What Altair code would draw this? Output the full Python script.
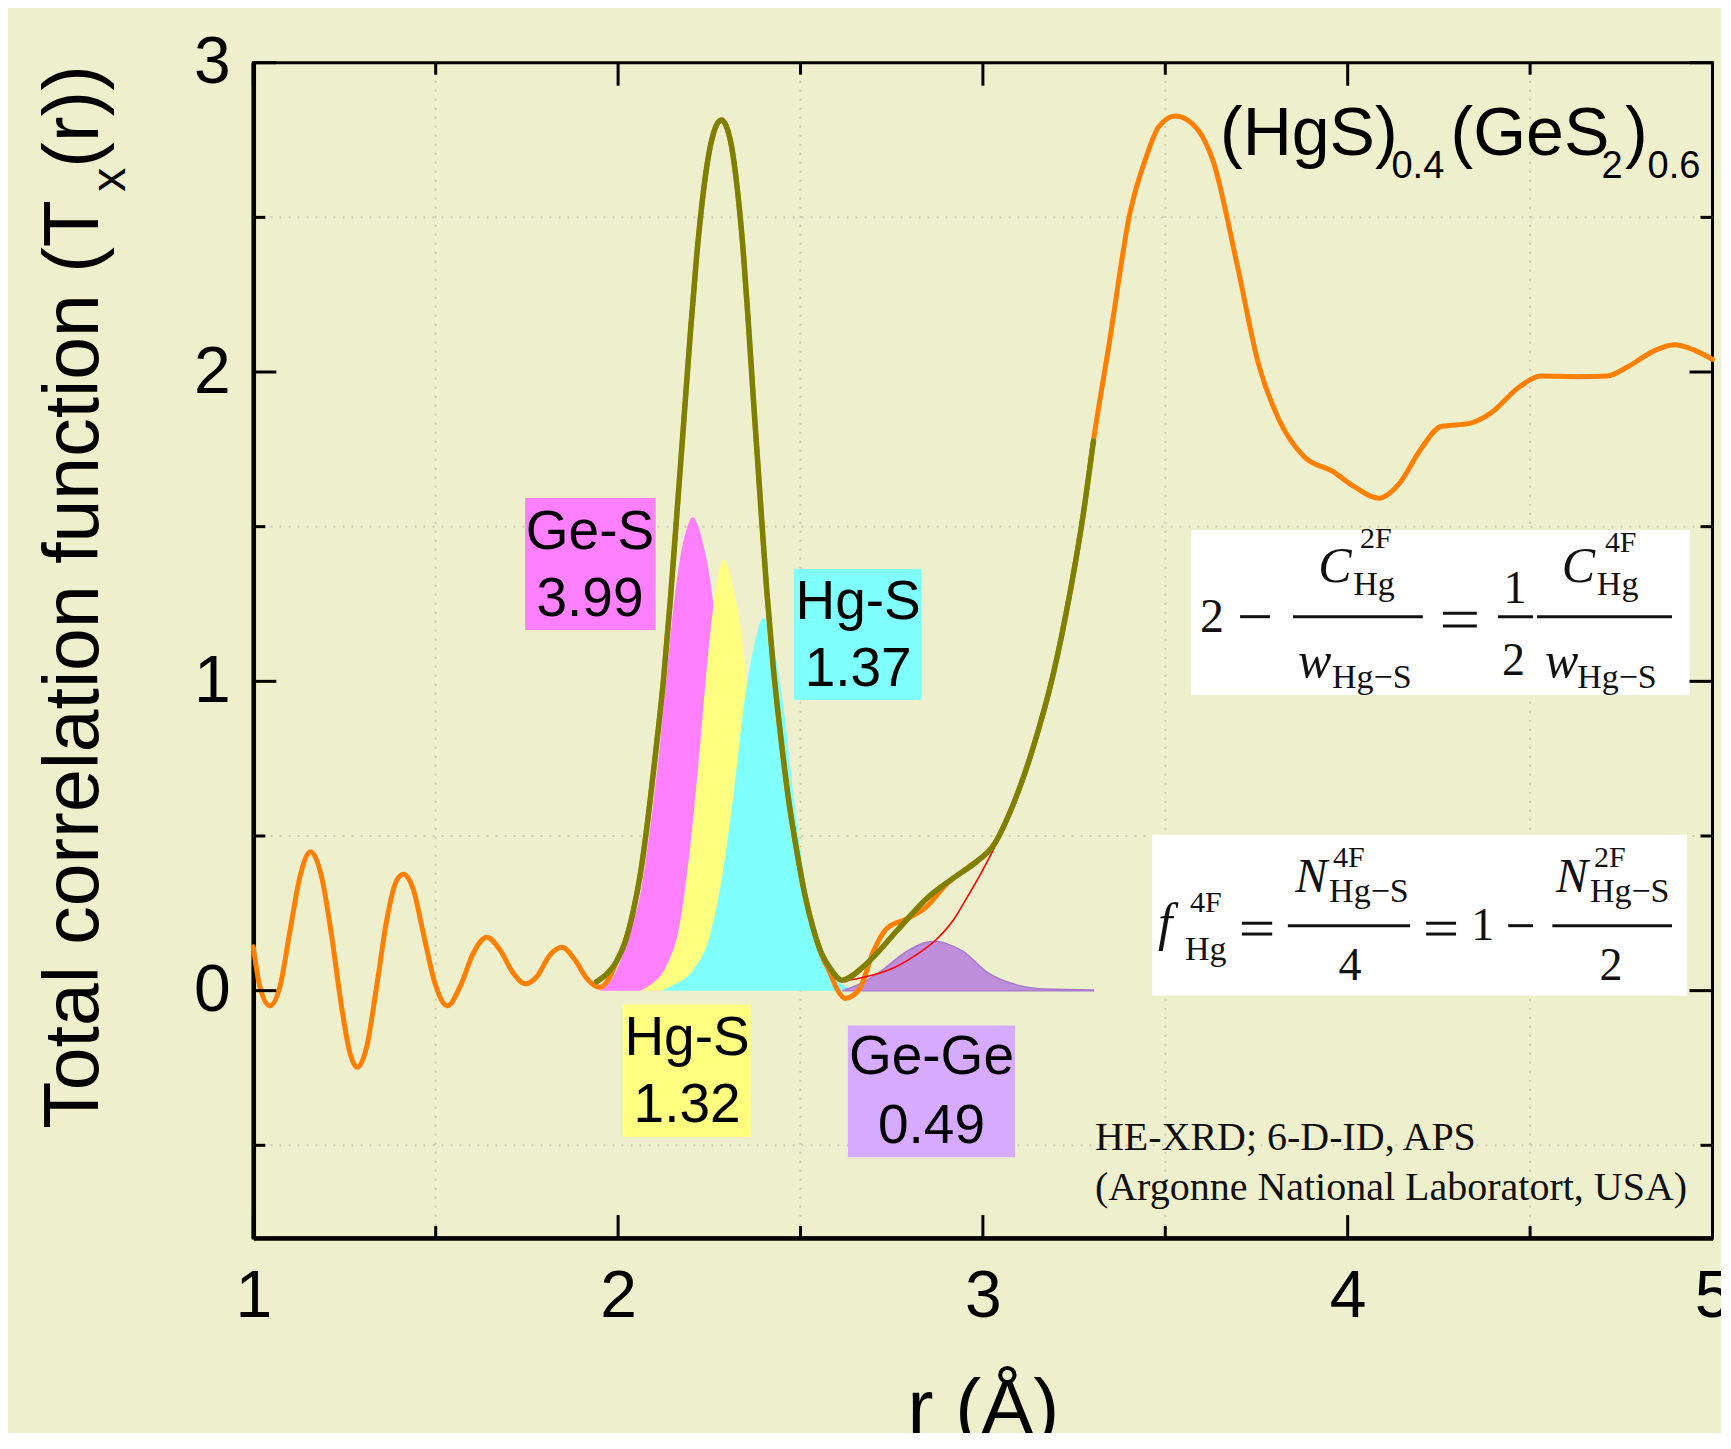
import altair as alt
import pandas as pd

# ---------------- data ----------------
# total correlation function (orange)
total_r = [1.000, 1.018, 1.046, 1.073, 1.101, 1.128, 1.157, 1.187, 1.215, 1.242, 1.265, 1.285,
           1.311, 1.338, 1.366, 1.388, 1.411, 1.439, 1.466, 1.498, 1.532, 1.567, 1.603, 1.640,
           1.676, 1.713, 1.746, 1.777, 1.813, 1.846, 1.882, 1.914, 1.949, 1.973, 1.996, 2.020,
           2.042, 2.060, 2.078, 2.100, 2.124, 2.143, 2.161, 2.180, 2.197, 2.215, 2.234, 2.248,
           2.261, 2.273, 2.284, 2.298, 2.311, 2.327, 2.343, 2.357, 2.371, 2.389, 2.407, 2.425,
           2.444, 2.467, 2.490, 2.512, 2.535, 2.558, 2.580, 2.600, 2.622, 2.645,
           2.663, 2.700, 2.736, 2.791, 2.846, 2.901, 2.965, 3.029, 3.083, 3.138, 3.193, 3.239,
           3.275, 3.303, 3.346, 3.403, 3.448, 3.482, 3.528, 3.573, 3.607, 3.630, 3.698,
           3.755, 3.812, 3.880, 3.960, 4.017, 4.085, 4.142, 4.199, 4.256, 4.335, 4.392, 4.472,
           4.529, 4.631, 4.711, 4.768, 4.836, 4.895, 4.950, 5.000]
total_t = [0.142, 0.013, -0.049, 0.013, 0.196, 0.369, 0.449, 0.369, 0.175, -0.052, -0.202, -0.248,
           -0.181, 0.013, 0.229, 0.342, 0.376, 0.326, 0.186, 0.024, -0.049, 0.013, 0.121, 0.173,
           0.132, 0.056, 0.022, 0.045, 0.115, 0.140, 0.099, 0.040, 0.011, 0.035, 0.095, 0.160,
           0.260, 0.370, 0.520, 0.740, 1.000, 1.260, 1.540, 1.840, 2.110, 2.370, 2.585, 2.700,
           2.770, 2.805, 2.815, 2.790, 2.730, 2.590, 2.390, 2.160, 1.910, 1.600, 1.300, 1.050,
           0.840, 0.620, 0.450, 0.310, 0.200, 0.115, 0.060, 0.005, -0.025, -0.015,
           0.008, 0.127, 0.200, 0.232, 0.272, 0.345, 0.404, 0.470, 0.602, 0.787, 1.024, 1.288,
           1.539, 1.777, 2.090, 2.513, 2.696, 2.793, 2.828, 2.804, 2.750, 2.686, 2.341,
           2.028, 1.845, 1.727, 1.678, 1.630, 1.592, 1.640, 1.748, 1.824, 1.834, 1.867, 1.953,
           1.987, 1.985, 1.987, 2.017, 2.066, 2.088, 2.071, 2.041]

# fitted total (olive)
fit_r = [1.941, 1.970, 1.996, 2.020, 2.042, 2.060, 2.078, 2.100, 2.124, 2.143, 2.161, 2.180,
         2.197, 2.215, 2.234, 2.248, 2.261, 2.273, 2.284, 2.298, 2.311, 2.327, 2.343, 2.357,
         2.371, 2.389, 2.407, 2.425, 2.444, 2.467, 2.490, 2.512, 2.535, 2.558, 2.581, 2.613,
         2.681, 2.764, 2.846, 2.919, 2.983, 3.029, 3.083, 3.138, 3.193, 3.239, 3.275, 3.303]
fit_t = [0.029, 0.055, 0.095, 0.160, 0.260, 0.370, 0.520, 0.740, 1.000, 1.260, 1.540, 1.840,
         2.110, 2.370, 2.585, 2.700, 2.770, 2.805, 2.815, 2.790, 2.730, 2.590, 2.390, 2.160,
         1.910, 1.600, 1.300, 1.050, 0.840, 0.620, 0.450, 0.310, 0.200, 0.120, 0.073, 0.034,
         0.087, 0.193, 0.298, 0.364, 0.417, 0.470, 0.602, 0.787, 1.024, 1.288, 1.539, 1.777]

# higher-r tail (red)
tail_r = [2.613, 2.680, 2.745, 2.810, 2.873, 2.920, 2.955, 2.995, 3.029, 3.060]
tail_t = [0.030, 0.045, 0.068, 0.110, 0.166, 0.230, 0.298, 0.380, 0.457, 0.535]

# partial peaks
ges_r = [1.950, 1.987, 2.014, 2.033, 2.060, 2.078, 2.096, 2.115, 2.133, 2.150, 2.170, 2.190,
         2.204, 2.220, 2.234, 2.257, 2.280, 2.310, 2.350, 2.400, 2.460, 2.500]
ges_t = [0.000, 0.044, 0.123, 0.200, 0.305, 0.440, 0.600, 0.800, 1.020, 1.220, 1.399, 1.500,
         1.531, 1.500, 1.441, 1.287, 1.000, 0.600, 0.300, 0.100, 0.020, 0.000]
hgs_a_r = [2.060, 2.088, 2.133, 2.170, 2.197, 2.224, 2.247, 2.270, 2.291, 2.316, 2.339, 2.360,
           2.385, 2.410, 2.450, 2.500, 2.550]
hgs_a_t = [0.000, 0.018, 0.081, 0.221, 0.459, 0.782, 1.090, 1.315, 1.395, 1.301, 1.147, 0.900,
           0.500, 0.220, 0.070, 0.010, 0.000]
hgs_b_r = [2.120, 2.151, 2.206, 2.252, 2.288, 2.320, 2.348, 2.371, 2.398, 2.425, 2.453, 2.480,
           2.508, 2.544, 2.581, 2.617, 2.650]
hgs_b_t = [0.000, 0.018, 0.067, 0.179, 0.389, 0.670, 0.950, 1.104, 1.205, 1.118, 0.922, 0.642,
           0.389, 0.165, 0.053, 0.018, 0.000]
gege_r = [2.615, 2.660, 2.718, 2.791, 2.840, 2.869, 2.900, 2.946, 3.010, 3.083, 3.175, 3.303]
gege_t = [0.000, 0.020, 0.061, 0.127, 0.155, 0.160, 0.152, 0.127, 0.061, 0.022, 0.005, 0.002]

# axes
x_major = [1, 2, 3, 4, 5]
y_major = [0, 1, 2, 3]
x_minor = [1.5, 2.5, 3.5, 4.5]
y_minor = [-0.5, 0.5, 1.5, 2.5]
X_DOM = [1, 5]
Y_DOM = [-0.8, 3]

# peak labels (text lines, anchor in data units) and their boxes
peak_labels = ["Ge-S", "3.99", "Hg-S", "1.37", "Hg-S", "1.32", "Ge-Ge", "0.49"]
peak_label_r = [1.923, 1.923, 2.658, 2.658, 2.189, 2.189, 2.859, 2.859]
peak_label_t = [1.427, 1.210, 1.202, 0.985, -0.207, -0.424, -0.269, -0.493]
box_r1 = [1.745, 2.482, 2.013, 2.630, 3.571, 3.464]
box_r2 = [2.103, 2.832, 2.364, 3.088, 4.938, 4.930]
box_t1 = [1.166, 0.940, -0.473, -0.539, 0.956, -0.016]
box_t2 = [1.593, 1.363, -0.045, -0.113, 1.489, 0.504]
box_col = ["#FF80FF", "#80FFFF", "#FFFF80", "#D5AAFF", "#FFFFFF", "#FFFFFF"]

SANS = "Liberation Sans, Arial, Helvetica, sans-serif"
SERIF = "Liberation Serif, Times New Roman, serif"

W, H = 1459.2, 1175.4
PX_R = W / (X_DOM[1] - X_DOM[0])
PX_T = H / (Y_DOM[1] - Y_DOM[0])

xs = alt.Scale(domain=X_DOM, nice=False, zero=False)
ys = alt.Scale(domain=Y_DOM, nice=False, zero=False)

x_axis = alt.Axis(values=x_major, format="d", title="r (Å)", grid=False, ticks=False, tickSize=0,
                  domain=True, domainColor="black", domainWidth=4.5,
                  labelFont=SANS, labelFontSize=66, labelColor="black", labelPadding=78,
                  labelBaseline="alphabetic", labelFlush=False, labelOverlap=False,
                  titleFont=SANS, titleFontSize=78, titleFontWeight="normal", titleColor="black",
                  titleX=W / 2, titleY=195, titleAlign="center", titleBaseline="alphabetic")
y_axis = alt.Axis(values=y_major, format="d", title=None,
                  grid=False, ticks=False, tickSize=0,
                  domain=True, domainColor="black", domainWidth=4.5,
                  labelFont=SANS, labelFontSize=66, labelColor="black", labelPadding=23,
                  labelBaseline="middle", labelAlign="right", labelFlush=False, labelOverlap=False)


def X(f):
    return alt.X(f, type="quantitative", scale=xs, axis=x_axis)


def Y(f):
    return alt.Y(f, type="quantitative", scale=ys, axis=y_axis)


def curve(r, t):
    return pd.DataFrame({"r": r, "t": t, "base": [0.0] * len(r)})


def area(r, t, color, **kw):
    return alt.Chart(curve(r, t)).mark_area(color=color, interpolate="monotone", opacity=1, **kw).encode(
        x=X("r"), y=Y("t"), y2="base")


def line(r, t, color, width):
    return alt.Chart(curve(r, t)).mark_line(color=color, strokeWidth=width, interpolate="monotone",
                                            strokeCap="round", strokeJoin="round").encode(
        x=X("r"), y=Y("t"))


# grid
vgrid = alt.Chart(pd.DataFrame({"v": x_minor})).mark_rule(
    color="#C8CBB0", strokeWidth=2, strokeDash=[2, 7]).encode(x=X("v"))
hgrid = alt.Chart(pd.DataFrame({"v": y_minor})).mark_rule(
    color="#C8CBB0", strokeWidth=2, strokeDash=[2, 7]).encode(y=Y("v"))

# peaks
a_ges = area(ges_r, ges_t, "#FF80FF")
a_hgs_a = area(hgs_a_r, hgs_a_t, "#FFFF80")
a_hgs_b = area(hgs_b_r, hgs_b_t, "#80FFFF")
a_gege = area(gege_r, gege_t, "#BF8FDC", stroke="#A77ACF", strokeWidth=1.5)

l_total = line(total_r, total_t, "#FF8000", 5)
l_fit = line(fit_r, fit_t, "#808000", 5.5)
l_tail = line(tail_r, tail_t, "#FF0000", 1.6)

# label boxes
boxes_df = pd.DataFrame({"r1": box_r1, "r2": box_r2, "t1": box_t1, "t2": box_t2, "c": box_col})
boxes = alt.Chart(boxes_df).mark_rect().encode(
    x=X("r1"), x2="r2", y=Y("t1"), y2="t2", color=alt.Color("c:N", scale=None))

labels_df = pd.DataFrame({"r": peak_label_r, "t": peak_label_t, "s": peak_labels})
labels = alt.Chart(labels_df).mark_text(font=SANS, fontSize=55, align="center",
                                        baseline="alphabetic", color="black").encode(
    x=X("r"), y=Y("t"), text="s:N")

# composition title (HgS)0.4(GeS2)0.6
title_df = pd.DataFrame({
    "s": ["(HgS)", "0.4", "(GeS", "2", ")", "0.6"],
    "r": [3.650, 4.120, 4.282, 4.696, 4.760, 4.822],
    "t": [2.702, 2.627, 2.702, 2.627, 2.702, 2.627],
    "fs": [68, 38, 68, 38, 68, 38],
})
comp = alt.Chart(title_df).mark_text(font=SANS, align="left", baseline="alphabetic",
                                     color="black").encode(
    x=X("r"), y=Y("t"), text="s:N", size=alt.Size("fs:Q", scale=None, legend=None))

# footnote
note_df = pd.DataFrame({"s": ["HE-XRD; 6-D-ID, APS", "(Argonne National Laboratort, USA)"],
                        "r": [3.307, 3.307], "t": [-0.515, -0.677]})
note = alt.Chart(note_df).mark_text(font=SERIF, fontSize=40, align="left", baseline="alphabetic",
                                    color="#111111").encode(x=X("r"), y=Y("t"), text="s:N")

# formulas
f_norm = pd.DataFrame({
    "s": ["2", "2F", "Hg", "Hg−S", "1", "2", "4F", "Hg", "Hg−S",
          "4F", "Hg", "4F", "Hg−S", "4", "1", "2F", "Hg−S", "2"],
    "r": [3.595, 4.034, 4.015, 3.957, 4.427, 4.423, 4.705, 4.683, 4.629,
          3.568, 3.554, 3.960, 3.949, 3.975, 4.339, 4.675, 4.664, 4.690],
    "t": [1.160, 1.431, 1.279, 0.979, 1.253, 1.021, 1.418, 1.279, 0.979,
          0.255, 0.099, 0.401, 0.288, 0.035, 0.164, 0.401, 0.288, 0.035],
    "fs": [48, 30, 34, 34, 46, 46, 30, 34, 34,
           30, 34, 30, 34, 46, 46, 30, 34, 46],
})
f_ital = pd.DataFrame({
    "s": ["C", "w", "C", "w", "f", "N", "N"],
    "r": [3.919, 3.864, 4.587, 4.541, 3.480, 3.856, 4.571],
    "t": [1.321, 1.014, 1.321, 1.014, 0.164, 0.320, 0.320],
    "fs": [50, 50, 50, 50, 52, 48, 48],
})
f_text1 = alt.Chart(f_norm).mark_text(font=SERIF, align="left", baseline="alphabetic",
                                      color="#111111").encode(
    x=X("r"), y=Y("t"), text="s:N", size=alt.Size("fs:Q", scale=None, legend=None))
f_text2 = alt.Chart(f_ital).mark_text(font=SERIF, fontStyle="italic", align="left",
                                      baseline="alphabetic", color="#111111").encode(
    x=X("r"), y=Y("t"), text="s:N", size=alt.Size("fs:Q", scale=None, legend=None))
f_bars = pd.DataFrame({
    "r1": [3.705, 3.850, 4.261, 4.261, 4.412, 4.519, 3.710, 3.710, 3.836, 4.215, 4.215, 4.440, 4.561],
    "r2": [3.787, 4.206, 4.354, 4.354, 4.508, 4.889, 3.793, 3.793, 4.171, 4.297, 4.297, 4.508, 4.889],
    "t": [1.209, 1.209, 1.220, 1.179, 1.209, 1.209, 0.218, 0.183, 0.210, 0.218, 0.183, 0.210, 0.210],
})
f_rules = alt.Chart(f_bars).mark_rule(color="#111111", strokeWidth=3).encode(
    x=X("r1"), x2="r2", y=Y("t"))

# y-axis title with a real subscript, built from three rotated pieces
ytitle_text = ["Total correlation function (T", "x", "(r))"]
ytitle_px = [-155, -128, -155]
ytitle_py = [1066, 129, 105]
ytitle_fs = [77, 48, 77]
ytitle = [
    alt.Chart(pd.DataFrame({"s": [s]})).mark_text(
        font=SANS, fontSize=fs, angle=270, align="left", baseline="alphabetic", color="black"
    ).encode(x=alt.value(px), y=alt.value(py), text="s:N")
    for s, px, py, fs in zip(ytitle_text, ytitle_px, ytitle_py, ytitle_fs)
]

# inward ticks
MAJ, MIN = 23, 12
h_rows = []
for v in y_major + y_minor:
    L = (MAJ if v in y_major else MIN) / PX_R
    h_rows.append({"x1": X_DOM[0], "x2": X_DOM[0] + L, "y": v})
    h_rows.append({"x1": X_DOM[1], "x2": X_DOM[1] - L, "y": v})
v_rows = []
for v in x_major + x_minor:
    L = (MAJ if v in x_major else MIN) / PX_T
    v_rows.append({"x": v, "y1": Y_DOM[0], "y2": Y_DOM[0] + L})
    v_rows.append({"x": v, "y1": Y_DOM[1], "y2": Y_DOM[1] - L})
ticks_h = alt.Chart(pd.DataFrame(h_rows)).mark_rule(color="black", strokeWidth=3).encode(
    x=X("x1"), x2="x2", y=Y("y"))
ticks_v = alt.Chart(pd.DataFrame(v_rows)).mark_rule(color="black", strokeWidth=3).encode(
    x=X("x"), y=Y("y1"), y2="y2")

chart = alt.layer(
    vgrid, hgrid,
    a_ges, a_hgs_a, a_hgs_b, a_gege,
    l_total, l_tail, l_fit,
    boxes, labels, comp, note, f_rules, f_text1, f_text2,
    ticks_h, ticks_v, *ytitle,
).properties(
    width=W, height=H,
    autosize=alt.AutoSizeParams(type="none"),
    padding={"left": 245.3, "top": 54.7, "right": 8, "bottom": 195},
).configure(background="#EEF0CD").configure_view(stroke="black", strokeWidth=3)

chart.save("out.html", embed_options={"renderer": "svg", "actions": False})
